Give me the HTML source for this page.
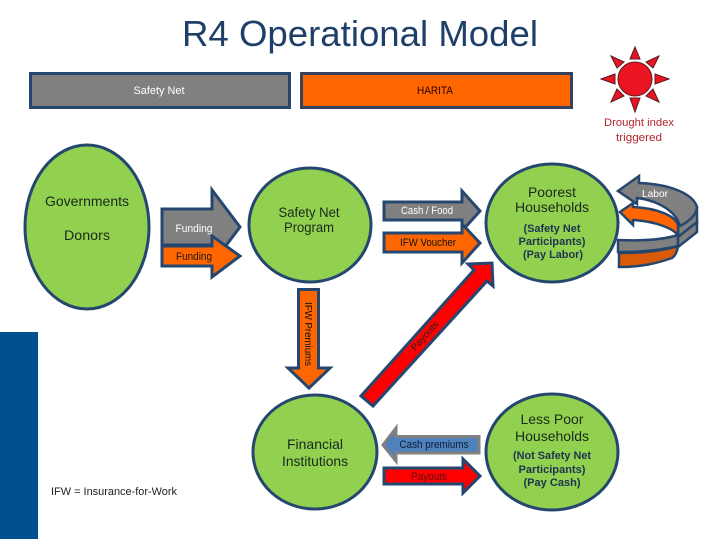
<!DOCTYPE html>
<html><head><meta charset="utf-8"><style>
html,body{margin:0;padding:0;background:#fff;width:720px;height:540px;overflow:hidden}
svg{display:block}
text{font-family:"Liberation Sans",sans-serif;text-anchor:middle;lengthAdjust:spacingAndGlyphs}
.s{stroke:#25476f;stroke-width:3;stroke-linejoin:miter}
</style></head><body>
<svg width="720" height="540" viewBox="0 0 720 540" xmlns="http://www.w3.org/2000/svg">
<rect width="720" height="540" fill="#fff"/>
<rect x="0" y="332" width="38" height="207" fill="#00508f"/>
<text x="360" y="46" font-size="36" fill="#1f3f68" textLength="356" lengthAdjust="spacingAndGlyphs">R4 Operational Model</text>

<rect x="30.5" y="73.5" width="259" height="34" fill="#808080" class="s"/>
<rect x="301.5" y="73.5" width="270" height="34" fill="#ff6600" stroke="#36415f" stroke-width="3"/>
<text x="159" y="94" font-size="11" fill="#fff" textLength="51" lengthAdjust="spacingAndGlyphs">Safety Net</text>
<text x="435" y="94" font-size="11" fill="#200" textLength="36" lengthAdjust="spacingAndGlyphs">HARITA</text>

<!-- sun -->
<g fill="#ea1520" stroke="#5a1a22" stroke-width="1">
<circle cx="635" cy="79" r="17"/>
<polygon points="635,47 630,59 640,59"/>
<polygon points="601,79 615,74 615,84"/>
<polygon points="669,79 655,74 655,84"/>
<polygon points="635,112 630,98 640,98"/>
<polygon points="611,56 624,62 617,68"/>
<polygon points="659,56 646,62 653,68"/>
<polygon points="611,102 624,96 617,89"/>
<polygon points="659,102 646,96 653,89"/>
</g>
<text x="639" y="126" font-size="11" fill="#b3242e" textLength="70" lengthAdjust="spacingAndGlyphs">Drought index</text>
<text x="639" y="141" font-size="11" fill="#b3242e" textLength="46" lengthAdjust="spacingAndGlyphs">triggered</text>

<!-- ellipses -->
<g fill="#92d050" class="s">
<ellipse cx="87" cy="227" rx="62" ry="82"/>
<ellipse cx="310" cy="225" rx="61" ry="57"/>
<ellipse cx="315" cy="452" rx="62" ry="57"/>
<ellipse cx="552" cy="223" rx="66" ry="59"/>
<ellipse cx="552" cy="452" rx="66" ry="58"/>
</g>

<!-- funding arrows -->
<polygon points="162,209 212,209 212,190 240,227 212,264 212,245 162,245" fill="#808080" class="s"/>
<polygon points="162,246 212,246 212,236 240,256 212,277 212,266 162,266" fill="#ff6600" class="s"/>
<text x="194" y="232" font-size="11" fill="#fff" textLength="37" lengthAdjust="spacingAndGlyphs">Funding</text>
<text x="194" y="260" font-size="11" fill="#1a1a1a" textLength="36" lengthAdjust="spacingAndGlyphs">Funding</text>

<!-- cash/voucher -->
<polygon points="384,202 462,202 462,191 480,211 462,231 462,220 384,220" fill="#808080" class="s"/>
<polygon points="384,233 462,233 462,224 480,243 462,263 462,252 384,252" fill="#ff6600" class="s"/>
<text x="427" y="214" font-size="11" fill="#fff" textLength="52" lengthAdjust="spacingAndGlyphs">Cash / Food</text>
<text x="428" y="246" font-size="11" fill="#111" textLength="56" lengthAdjust="spacingAndGlyphs">IFW Voucher</text>

<!-- IFW premiums -->
<polygon points="298.500,289.500 318.500,289.500 318.500,368 330,368 309,388 288,368 298.500,368" fill="#ff6600" class="s"/>
<text transform="translate(305,334) rotate(90)" font-size="10.500" fill="#111" textLength="64" lengthAdjust="spacingAndGlyphs">IFW Premiums</text>

<!-- payouts red -->
<polygon points="361,396 373,406 487,281 493,286 492,263 468,264 474,270" fill="#ff0000" class="s"/>
<text transform="translate(427,338) rotate(-48)" font-size="9.500" fill="#222" textLength="36" lengthAdjust="spacingAndGlyphs">Payouts</text>

<!-- financial arrows -->
<polygon points="479,436.500 396,436.500 396,428 383,445 396,461 396,453 479,453" fill="#4f81bd" stroke="#808080" stroke-width="3"/>
<text x="434" y="448" font-size="11" fill="#0c1e3a" textLength="69" lengthAdjust="spacingAndGlyphs">Cash premiums</text>
<polygon points="384,468 463,468 463,459 480,476 463,493 463,484 384,484" fill="#ff0000" class="s"/>
<text x="429" y="480" font-size="11" fill="#5a1010" textLength="36" lengthAdjust="spacingAndGlyphs">Payouts</text>

<!-- labor -->
<g stroke="#25476f" stroke-width="2.500" stroke-linejoin="miter">
<path d="M618,240 C640,241 662,240 678,235 L678,246 C662,250 640,252 618,252 Z" fill="#808080"/>
<path d="M619,253 C640,253 662,251 678,246 C677,253 675,256 672,258 C655,264 640,267 619,267 Z" fill="#d95a08"/>
<path d="M678,237 L697,223 L697,207 C697,212 690,222 678,226 Z" fill="#808080"/>
<path d="M678,237 L697,222 L697,232 L678,247 Z" fill="#808080"/>
<path d="M618,191 L639,176 L639,183 C668,184 693,193 697,207 C697,215 688,222 680,226 C676,212 660,201 637,198 L637,204 Z" fill="#808080"/>
<path d="M620,212 L633,203 L633,207 C655,208 675,215 678,225 L678,236 C675,229 655,221 633,220 L633,225 Z" fill="#ff6600"/>
</g>
<text x="655" y="197" font-size="10.500" fill="#fff" textLength="26" lengthAdjust="spacingAndGlyphs">Labor</text>

<!-- labels -->
<g fill="#1a2a1a">
<text x="87" y="206" font-size="14" textLength="84" lengthAdjust="spacingAndGlyphs">Governments</text>
<text x="87" y="240" font-size="14" textLength="46" lengthAdjust="spacingAndGlyphs">Donors</text>
<text x="309" y="217" font-size="13.500" textLength="61" lengthAdjust="spacingAndGlyphs">Safety Net</text>
<text x="309" y="232" font-size="13.500" textLength="50" lengthAdjust="spacingAndGlyphs">Program</text>
<text x="315" y="449" font-size="14" textLength="56" lengthAdjust="spacingAndGlyphs">Financial</text>
<text x="315" y="466" font-size="14" textLength="66" lengthAdjust="spacingAndGlyphs">Institutions</text>
<text x="552" y="197" font-size="14" textLength="48" lengthAdjust="spacingAndGlyphs">Poorest</text>
<text x="552" y="212" font-size="14" textLength="74" lengthAdjust="spacingAndGlyphs">Households</text>
<text x="552" y="424" font-size="14" textLength="63" lengthAdjust="spacingAndGlyphs">Less Poor</text>
<text x="552" y="441" font-size="14" textLength="74" lengthAdjust="spacingAndGlyphs">Households</text>
</g>
<g fill="#1d3350" font-weight="bold" font-size="11">
<text x="552" y="232" textLength="57" lengthAdjust="spacingAndGlyphs">(Safety Net</text>
<text x="552" y="245" textLength="67" lengthAdjust="spacingAndGlyphs">Participants)</text>
<text x="553" y="258" textLength="60" lengthAdjust="spacingAndGlyphs">(Pay Labor)</text>
<text x="552" y="459" textLength="78" lengthAdjust="spacingAndGlyphs">(Not Safety Net</text>
<text x="552" y="473" textLength="67" lengthAdjust="spacingAndGlyphs">Participants)</text>
<text x="552" y="486" textLength="57" lengthAdjust="spacingAndGlyphs">(Pay Cash)</text>
</g>
<text x="114" y="495" font-size="11" fill="#222" textLength="126" lengthAdjust="spacingAndGlyphs">IFW = Insurance-for-Work</text>
</svg>
</body></html>
